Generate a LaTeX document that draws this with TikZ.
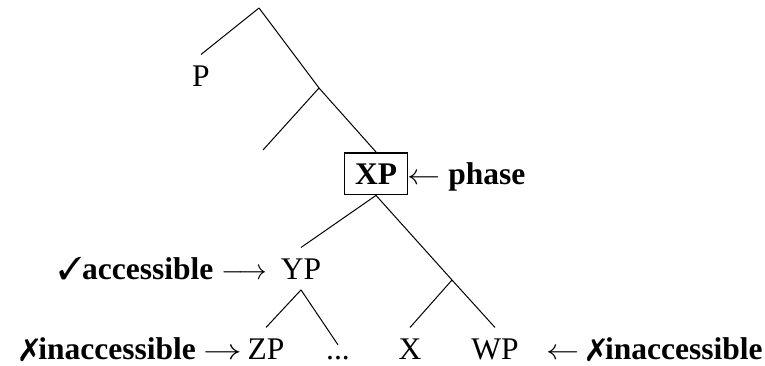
\documentclass[tikz,border=0pt]{standalone}
\usepackage{fontspec}
\setmainfont{Liberation Serif}
\usepackage{pifont}
\usepackage{graphicx}
\usepackage{tikz}
\usetikzlibrary{positioning}
\definecolor{treeInk}{RGB}{0,0,0}
\newcommand{\wideto}{\scalebox{1.35}[1]{$\rightarrow$}}
\newcommand{\widefrom}{\scalebox{1.15}[1]{$\leftarrow$}}

\begin{document}
\begin{tikzpicture}[x=0.5pt,y=-0.5pt,
  font=\fontsize{15.75}{19}\selectfont,
  branch/.style={treeInk, line width=0.5pt},
  leaf/.style={inner sep=5.25pt, anchor=base},
  phasebox/.style={draw=treeInk, line width=0.9pt, inner sep=5.25pt, anchor=base, font=\fontsize{15.75}{19}\selectfont\bfseries},
  note/.style={inner sep=0pt}]
\useasboundingbox (0,0) rectangle (765,365);

% tree nodes
\coordinate (root) at (259,8);
\node[leaf] (p) at (201,86) {P};
\coordinate (mid) at (319,88);
\coordinate (spec) at (263,150);
\node[phasebox] (xp) at (376,184) {XP};
\node[leaf] (yp) at (301,279) {YP};
\coordinate (xbar) at (452,280);
\node[leaf] (zp) at (266,359) {ZP};
\node[leaf] (dots) at (338,359) {...};
\node[leaf] (x) at (410,359) {X};
\node[leaf] (wp) at (495,359) {WP};

\draw[branch] (root) -- (p.north);
\draw[branch] (root) -- (mid);
\draw[branch] (mid) -- (spec);
\draw[branch] (mid) -- (xp.north);
\draw[branch] (xp.south) -- (yp.north);
\draw[branch] (xp.south) -- (xbar);
\draw[branch] (yp.south) -- (zp.north);
\draw[branch] (yp.south) -- (dots.north);
\draw[branch] (xbar) -- (x.north);
\draw[branch] (xbar) -- (wp.north);

% side labels
\node[note, anchor=base west] (phase) at (407,184) {\widefrom\ \textbf{phase}};
\node[note, anchor=base east] (acc) at (268,279) {\ding{51}\textbf{accessible} $\longrightarrow$};
\node[note, anchor=base east] (inaccl) at (243,359) {\ding{55}\textbf{inaccessible} \wideto};
\node[note, anchor=base east] (inaccr) at (763,359) {\widefrom\ \ding{55}\textbf{inaccessible}};
\end{tikzpicture}
\end{document}
